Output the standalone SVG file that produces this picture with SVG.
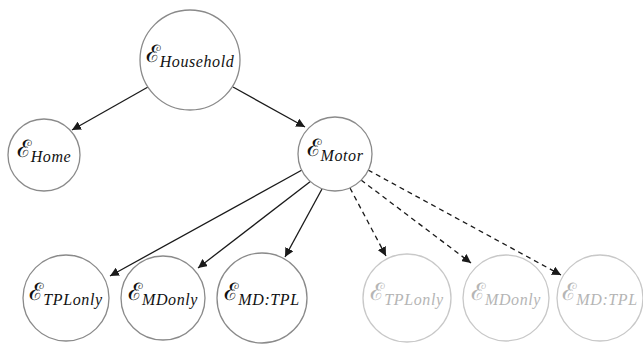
<svg xmlns="http://www.w3.org/2000/svg" width="643" height="344" viewBox="0 0 643 344">
<style>
.n{fill:#fff;stroke:#8a8a8a;stroke-width:1.3}
.g{fill:#fff;stroke:#c8c8c8;stroke-width:1.3}
.t{font-family:"DejaVu Serif","Liberation Serif",serif;font-size:24px;fill:#111;text-anchor:middle}
.tg{fill:#b5b5b5}
.s{font-family:"Liberation Serif",serif;font-style:italic;font-size:16px;letter-spacing:0.6px}
.e{stroke:#1a1a1a;stroke-width:1.3;fill:none}
.d{stroke-dasharray:5,4}
</style>
<defs>
<marker id="ah" viewBox="0 0 10 10" refX="10" refY="5" markerWidth="9" markerHeight="9" markerUnits="userSpaceOnUse" orient="auto">
<path d="M0,0 L10,5 L0,10 z" fill="#1a1a1a"/>
</marker>
</defs>
<g id="connectors">
<line class="e" x1="148" y1="87" x2="72" y2="130" marker-end="url(#ah)"/>
<line class="e" x1="233" y1="87" x2="305" y2="127" marker-end="url(#ah)"/>
<line class="e" x1="302" y1="170" x2="110" y2="276" marker-end="url(#ah)"/>
<line class="e" x1="311" y1="181" x2="198" y2="268" marker-end="url(#ah)"/>
<line class="e" x1="322" y1="189" x2="285" y2="257" marker-end="url(#ah)"/>
<line class="e d" x1="350" y1="188" x2="386" y2="256" marker-end="url(#ah)"/>
<line class="e d" x1="361" y1="180" x2="471" y2="263" marker-end="url(#ah)"/>
<line class="e d" x1="368" y1="170" x2="561" y2="275" marker-end="url(#ah)"/>
</g>
<g id="household"><circle class="n" cx="190" cy="60" r="50"/><text class="t" x="190" y="62">ℰ<tspan class="s" dy="5">Household</tspan></text></g>
<g id="home"><circle class="n" cx="44" cy="155" r="36"/><text class="t" x="44" y="157">ℰ<tspan class="s" dy="5">Home</tspan></text></g>
<g id="motor"><circle class="n" cx="335" cy="154" r="37"/><text class="t" x="335" y="156">ℰ<tspan class="s" dy="5">Motor</tspan></text></g>
<g id="tpl1"><circle class="n" cx="66" cy="298" r="43"/><text class="t" x="66" y="300">ℰ<tspan class="s" dy="5">TPLonly</tspan></text></g>
<g id="md1"><circle class="n" cx="163" cy="298" r="42"/><text class="t" x="163" y="300">ℰ<tspan class="s" dy="5">MDonly</tspan></text></g>
<g id="mdtpl1"><circle class="n" cx="262" cy="298" r="45"/><text class="t" x="262" y="300">ℰ<tspan class="s" dy="5">MD:TPL</tspan></text></g>
<g id="tpl2"><circle class="g" cx="407" cy="298" r="44"/><text class="t tg" x="407" y="300">ℰ<tspan class="s" dy="5">TPLonly</tspan></text></g>
<g id="md2"><circle class="g" cx="506" cy="298" r="43"/><text class="t tg" x="506" y="300">ℰ<tspan class="s" dy="5">MDonly</tspan></text></g>
<g id="mdtpl2"><circle class="g" cx="600" cy="298" r="43"/><text class="t tg" x="600" y="300">ℰ<tspan class="s" dy="5">MD:TPL</tspan></text></g>
</svg>
